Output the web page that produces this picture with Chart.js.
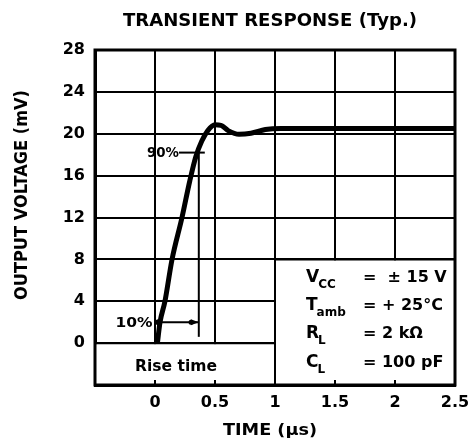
<!DOCTYPE html>
<html><head><meta charset="utf-8">
<script src="https://cdn.jsdelivr.net/npm/chart.js@4"></script>
<style>html,body{margin:0;padding:0;background:#fff}canvas{display:block}</style>
</head><body>
<canvas id="c" width="470" height="445"></canvas>
<script>
// ---- data ----
const timeUs   = [0.02, 0.042, 0.083, 0.142, 0.225, 0.29, 0.34, 0.39, 0.44, 0.5, 0.55, 0.61, 0.7, 0.8, 0.92, 1.05, 1.5, 2.0, 2.5];
const outputMv = [0,    2,     4,     8,     12,    15.5, 17.8, 19.3, 20.3, 20.85, 20.8, 20.3, 19.95, 20.05, 20.4, 20.5, 20.5, 20.5, 20.5];
const xTickValues = [-0.5, 0, 0.5, 1, 1.5, 2, 2.5];
const xTickLabels = ['', '0', '0.5', '1', '1.5', '2', '2.5'];
const yTickValues = [-4, 0, 4, 8, 12, 16, 20, 24, 28];
const yTickLabels = ['', '0', '4', '8', '12', '16', '20', '24', '28'];
// annotation levels (data units)
const level90 = 18.2, level10 = 2.0, riseStartT = 0.02, riseEndT = 0.365;
const conditions = [
  ['V', 'CC', '=  \u00b1 15 V'],
  ['T', 'amb', '= + 25\u00b0C'],
  ['R', 'L', '= 2 k\u03a9'],
  ['C', 'L', '= 100 pF']
];

const F = '"DejaVu Sans", "Liberation Sans", sans-serif';
function fitText(ctx, txt, x, y, size, w, align, rot) {
  ctx.save();
  ctx.font = 'bold ' + size + 'px ' + F;
  const m = ctx.measureText(txt).width;
  const s = w ? w / m : 1;
  ctx.translate(x, y);
  if (rot) ctx.rotate(rot);
  ctx.scale(s, 1);
  ctx.textAlign = align || 'left';
  ctx.fillText(txt, 0, 0);
  ctx.restore();
}
function seg(ctx, x1, y1, x2, y2) { ctx.beginPath(); ctx.moveTo(x1, y1); ctx.lineTo(x2, y2); ctx.stroke(); }

const decor = {
  id: 'decor',
  beforeDatasetsDraw(chart) {
    const { ctx, chartArea: a, scales: { x, y } } = chart;
    const y0 = y.getPixelForValue(0), y8 = y.getPixelForValue(8), x1 = x.getPixelForValue(1);
    ctx.save();
    ctx.fillStyle = '#fff';
    ctx.fillRect(a.left, y0 + 1, a.right - a.left, a.bottom - y0);
    ctx.fillRect(x1, y8 + 1, a.right - x1, a.bottom - y8);
    ctx.strokeStyle = '#000';
    ctx.lineWidth = 2;
    seg(ctx, a.left, y0, x1, y0);
    seg(ctx, x1, y8, a.right, y8);
    seg(ctx, x1, y8, x1, a.bottom);
    [0, 0.5, 1.5, 2].forEach(v => { const px = x.getPixelForValue(v); seg(ctx, px, a.bottom, px, a.bottom - 5); });
    ctx.lineWidth = 3;
    ctx.strokeRect(a.left, a.top, a.right - a.left, a.bottom - a.top);
    ctx.restore();
  },
  afterDatasetsDraw(chart) {
    const { ctx, chartArea: a, scales: { x, y } } = chart;
    ctx.save();
    ctx.fillStyle = '#000'; ctx.strokeStyle = '#000'; ctx.lineWidth = 2;
    const xr = x.getPixelForValue(riseEndT), xs = x.getPixelForValue(riseStartT);
    const y90 = y.getPixelForValue(level90), y10 = y.getPixelForValue(level10);
    // 90% marker
    seg(ctx, x.getPixelForValue(0.2), y90, x.getPixelForValue(0.415), y90);
    seg(ctx, xr, y90, xr, y.getPixelForValue(0.6));
    // 10% dimension line
    seg(ctx, xs, y10, xr, y10);
    ctx.beginPath(); ctx.arc(xs + 1, y10, 3, 0, Math.PI * 2); ctx.fill();
    ctx.beginPath(); ctx.moveTo(xr, y10); ctx.lineTo(xr - 8, y10 - 3); ctx.lineTo(xr - 8, y10 + 3); ctx.closePath(); ctx.fill();
    ctx.beginPath(); ctx.arc(x.getPixelForValue(0.3), y10, 2.5, 0, Math.PI * 2); ctx.fill();
    ctx.textBaseline = 'middle';
    fitText(ctx, '90%', x.getPixelForValue(0.2), y90 + 1, 14, 32, 'right');
    fitText(ctx, '10%', x.getPixelForValue(-0.02), y10 + 1, 14, 37, 'right');
    ctx.textBaseline = 'alphabetic';
    // rise time label
    fitText(ctx, 'Rise time', x.getPixelForValue(0.175), y.getPixelForValue(-2) + 7, 15, 82, 'center');
    // conditions box
    const bx = x.getPixelForValue(1) + 31, ex = x.getPixelForValue(1) + 88;
    const base = [282, 310, 338, 367];
    conditions.forEach((c, i) => {
      const by = base[i];
      ctx.font = 'bold 17px ' + F;
      ctx.textAlign = 'left';
      ctx.fillText(c[0], bx, by);
      const w = ctx.measureText(c[0]).width;
      ctx.font = 'bold 12px ' + F;
      ctx.fillText(c[1], bx + w - 1, by + 6);
      ctx.font = 'bold 16px ' + F;
      ctx.fillText(c[2], ex, by);
    });
    ctx.restore();
  },
  afterDraw(chart) {
    const { ctx } = chart;
    ctx.save();
    ctx.fillStyle = '#000';
    fitText(ctx, 'TRANSIENT RESPONSE (Typ.)', 270, 26, 17, 294, 'center');
    fitText(ctx, 'OUTPUT VOLTAGE (mV)', 27, 195, 17, 210, 'center', -Math.PI / 2);
    fitText(ctx, 'TIME (\u03bcs)', 270, 435, 16, 94, 'center');
    ctx.restore();
  }
};

new Chart(document.getElementById('c'), {
  type: 'line',
  data: {
    datasets: [{
      data: timeUs.map((t, i) => ({ x: t, y: outputMv[i] })),
      borderColor: '#000', borderWidth: 5, pointRadius: 0,
      cubicInterpolationMode: 'monotone', fill: false, clip: false
    }]
  },
  options: {
    responsive: false, animation: false, devicePixelRatio: 1,
    layout: { padding: { top: 50, right: 15, bottom: 0, left: 0 } },
    plugins: { legend: { display: false }, tooltip: { enabled: false }, title: { display: false } },
    scales: {
      x: {
        type: 'linear', min: -0.5, max: 2.5,
        afterBuildTicks: s => { s.ticks = xTickValues.map(v => ({ value: v })); },
        afterFit: s => { s.height = 60; s.paddingLeft = 0; s.paddingRight = 0; },
        ticks: {
          callback: (v) => { const i = xTickValues.indexOf(v); return i >= 0 ? xTickLabels[i] : ''; },
          color: '#000', font: { family: F, weight: 'bold', size: 16 }, padding: 8, maxRotation: 0, autoSkip: false
        },
        grid: { color: '#000', lineWidth: 2, drawTicks: false },
        border: { display: true, color: '#000', width: 3 }
      },
      y: {
        min: -4, max: 28,
        afterBuildTicks: s => { s.ticks = yTickValues.map(v => ({ value: v })); },
        afterFit: s => { s.width = 95; s.paddingTop = 0; s.paddingBottom = 0; },
        ticks: {
          callback: (v) => { const i = yTickValues.indexOf(v); return i >= 0 ? yTickLabels[i] : ''; },
          color: '#000', font: { family: F, weight: 'bold', size: 16 }, padding: 10, autoSkip: false
        },
        grid: { color: '#000', lineWidth: 2, drawTicks: false },
        border: { display: true, color: '#000', width: 3 }
      }
    }
  },
  plugins: [decor]
});
</script>
</body></html>
